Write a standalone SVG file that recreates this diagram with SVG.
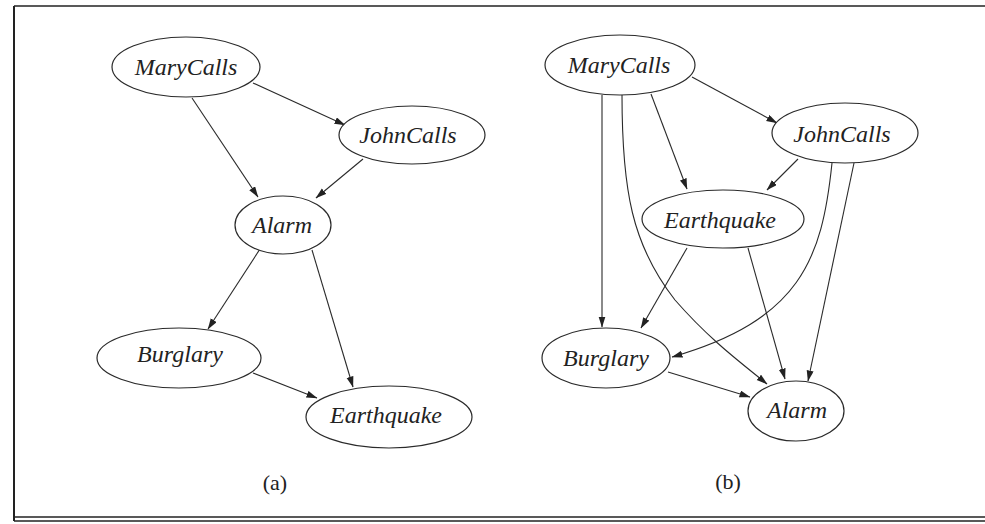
<svg xmlns="http://www.w3.org/2000/svg" width="985" height="524" viewBox="0 0 985 524">
<style>
.node ellipse{fill:#fff;stroke:#2a2a2a;stroke-width:1.2}
.node text{font-family:"Liberation Serif","Times New Roman",serif;font-style:italic;font-size:24px;fill:#222;text-anchor:middle}
.edge{fill:none;stroke:#2a2a2a;stroke-width:1.1;marker-end:url(#arr)}
.cap{font-family:"Liberation Serif","Times New Roman",serif;font-size:22px;fill:#222;text-anchor:middle}
.frame{stroke:#222;fill:none}
</style>
<defs>
<marker id="arr" markerWidth="11" markerHeight="8" refX="10.5" refY="3.5" orient="auto" markerUnits="userSpaceOnUse">
<path d="M0,0 L11,3.5 L0,7 z" fill="#222"/>
</marker>
</defs>
<rect width="985" height="524" fill="#fff"/>
<g id="frame">
<line class="frame" x1="14" y1="6" x2="985" y2="6" stroke-width="1.6"/>
<line class="frame" x1="14" y1="6" x2="14" y2="521" stroke-width="2"/>
<line class="frame" x1="14" y1="517" x2="985" y2="517" stroke-width="1.5"/>
<line class="frame" x1="14" y1="521" x2="985" y2="521" stroke-width="1.5"/>
</g>
<g id="connectors">
<!-- (a) -->
<line class="edge" x1="192" y1="98" x2="258" y2="197"/>
<line class="edge" x1="253" y1="83" x2="345" y2="125"/>
<line class="edge" x1="363" y1="159" x2="316" y2="198"/>
<line class="edge" x1="260" y1="249" x2="208" y2="329"/>
<line class="edge" x1="312" y1="250" x2="353" y2="387"/>
<line class="edge" x1="253" y1="373" x2="317" y2="398"/>
<!-- (b) -->
<line class="edge" x1="692" y1="77" x2="777" y2="123"/>
<line class="edge" x1="651" y1="94" x2="687" y2="189"/>
<line class="edge" x1="602" y1="95" x2="602" y2="327"/>
<path class="edge" d="M622,95 C622,190 632,245 675,300 C710,340 740,362 767,384"/>
<line class="edge" x1="798" y1="159" x2="767" y2="190"/>
<path class="edge" d="M832,163 C822,260 800,320 672,357"/>
<line class="edge" x1="854" y1="163" x2="808" y2="381"/>
<line class="edge" x1="687" y1="248" x2="641" y2="328"/>
<line class="edge" x1="748" y1="248" x2="785" y2="379"/>
<line class="edge" x1="668" y1="372" x2="750" y2="397"/>
</g>
<g id="a-MaryCalls" class="node"><ellipse cx="186" cy="67" rx="74" ry="30"/><text x="186" y="75">MaryCalls</text></g>
<g id="a-JohnCalls" class="node"><ellipse cx="412" cy="135" rx="73" ry="29"/><text x="408" y="143">JohnCalls</text></g>
<g id="a-Alarm" class="node"><ellipse cx="283" cy="225" rx="48" ry="29"/><text x="282" y="233">Alarm</text></g>
<g id="a-Burglary" class="node"><ellipse cx="179" cy="358" rx="82" ry="30"/><text x="180" y="362">Burglary</text></g>
<g id="a-Earthquake" class="node"><ellipse cx="389" cy="417" rx="83" ry="31"/><text x="386" y="423">Earthquake</text></g>
<text class="cap" x="275" y="490">(a)</text>
<g id="b-MaryCalls" class="node"><ellipse cx="620" cy="65" rx="75" ry="30"/><text x="619" y="73">MaryCalls</text></g>
<g id="b-JohnCalls" class="node"><ellipse cx="845" cy="133" rx="73" ry="30"/><text x="842" y="142">JohnCalls</text></g>
<g id="b-Earthquake" class="node"><ellipse cx="723" cy="219" rx="81" ry="29"/><text x="720" y="228">Earthquake</text></g>
<g id="b-Burglary" class="node"><ellipse cx="606" cy="358" rx="64" ry="30"/><text x="606" y="366">Burglary</text></g>
<g id="b-Alarm" class="node"><ellipse cx="796" cy="411" rx="48" ry="30"/><text x="797" y="418">Alarm</text></g>
<text class="cap" x="728" y="489">(b)</text>
</svg>
